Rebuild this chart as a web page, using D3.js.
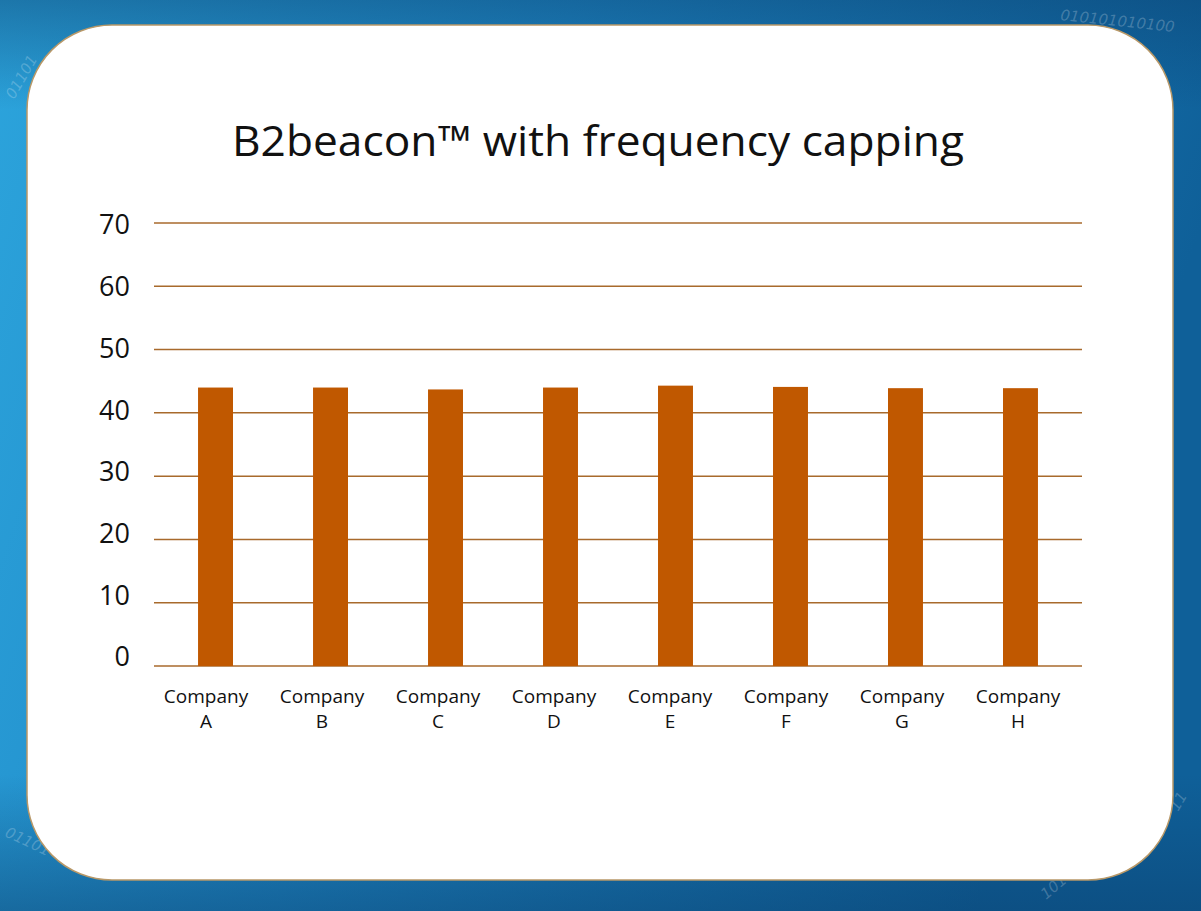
<!DOCTYPE html>
<html><head><meta charset="utf-8">
<script src="https://cdn.jsdelivr.net/npm/d3@7"></script>
<style>html,body{margin:0;padding:0;overflow:hidden;background:#1676b0}</style>
</head><body>
<script>
const categories = ["Company A","Company B","Company C","Company D","Company E","Company F","Company G","Company H"];
const values = [44.0, 44.0, 43.7, 44.0, 44.3, 44.1, 43.9, 43.9];
const yTicks = [0,10,20,30,40,50,60,70];
const title = "B2beacon\u2122 with frequency capping";

const W = 1201, H = 911;
const svg = d3.select("body").append("svg").attr("width", W).attr("height", H);
const defs = svg.append("defs");

const lg = defs.append("linearGradient").attr("id","bg").attr("x1","0").attr("y1","0").attr("x2","1").attr("y2","0.25");
lg.append("stop").attr("offset","0").attr("stop-color","#2ca4dc");
lg.append("stop").attr("offset","0.45").attr("stop-color","#1f88c6");
lg.append("stop").attr("offset","1").attr("stop-color","#0f6099");
svg.append("rect").attr("width",W).attr("height",H).attr("fill","url(#bg)");

const tg = defs.append("linearGradient").attr("id","shade").attr("x1","0").attr("y1","0").attr("x2","0").attr("y2","1");
tg.append("stop").attr("offset","0").attr("stop-color","#0a3f6e").attr("stop-opacity",0.45);
tg.append("stop").attr("offset","0.12").attr("stop-color","#0a3f6e").attr("stop-opacity",0);
tg.append("stop").attr("offset","0.85").attr("stop-color","#0a3f6e").attr("stop-opacity",0);
tg.append("stop").attr("offset","1").attr("stop-color","#0a3f6e").attr("stop-opacity",0.5);
svg.append("rect").attr("width",W).attr("height",H).attr("fill","url(#shade)");

// faint binary digits
const bin = [
  {t:"010101010100", x:1060, y:20, r:6},
  {t:"01101", x:14, y:100, r:-60},
  {t:"01101", x:4, y:836, r:25},
  {t:"101", x:1046, y:900, r:-40},
  {t:"11", x:1178, y:812, r:-60}
];
svg.selectAll("text.bin").data(bin).enter().append("text")
  .attr("transform", d => `translate(${d.x},${d.y}) rotate(${d.r})`)
  .attr("fill","#ffffff").attr("fill-opacity",0.22)
  .style("font-family","DejaVu Sans").style("font-style","italic").style("font-size","15px")
  .text(d => d.t);

// card
svg.append("rect").attr("x",27).attr("y",25).attr("width",1146).attr("height",855)
  .attr("rx",85).attr("ry",85).attr("fill","#ffffff").attr("stroke","#b89868").attr("stroke-width",1.5);

// title
svg.append("text").attr("x",598).attr("y",156).attr("text-anchor","middle")
  .style("font-family","'Open Sans', Lato, sans-serif").style("font-size","42px").attr("fill","#111")
  .attr("textLength",732).attr("lengthAdjust","spacingAndGlyphs")
  .text(title);

const x0 = 154, x1 = 1082, yTop = 223, yBot = 666;
const x = d3.scaleBand().domain(categories).range([x0, x1]).paddingInner(0.696).paddingOuter(0.383);
const xLab = d3.scalePoint().domain(categories).range([206, 1018]);
const y = d3.scaleLinear().domain([0,70]).range([yBot, yTop]);
const yLab = d3.scaleLinear().domain([0,70]).range([657, 225]);

// gridlines
svg.append("g").selectAll("line").data(yTicks).enter().append("line")
  .attr("x1",x0).attr("x2",x1).attr("y1",d=>y(d)).attr("y2",d=>y(d))
  .attr("stroke","#a86a2c").attr("stroke-width",1.5);

// y labels
svg.append("g").selectAll("text").data(yTicks).enter().append("text")
  .attr("x",130).attr("y",d=>yLab(d)).attr("dy","0.35em").attr("text-anchor","end")
  .style("font-family","'Open Sans', Lato, sans-serif").style("font-size","27px").attr("fill","#111")
  .text(d=>d);

// bars
svg.append("g").selectAll("rect").data(values).enter().append("rect")
  .attr("x",(d,i)=>x(categories[i])).attr("width",x.bandwidth())
  .attr("y",d=>y(d)).attr("height",d=>yBot - y(d))
  .attr("fill","#c05800");

// x labels
const xl = svg.append("g").selectAll("text").data(categories).enter().append("text")
  .attr("x",d=>xLab(d)).attr("y",703).attr("text-anchor","middle")
  .style("font-family","'Open Sans', Lato, sans-serif").style("font-size","19px").attr("fill","#111");
xl.each(function(d){
  const parts = d.split(" ");
  const t = d3.select(this);
  t.append("tspan").attr("x",xLab(d)).text(parts[0]);
  t.append("tspan").attr("x",xLab(d)).attr("dy",25).text(parts[1]);
});
</script>
</body></html>
